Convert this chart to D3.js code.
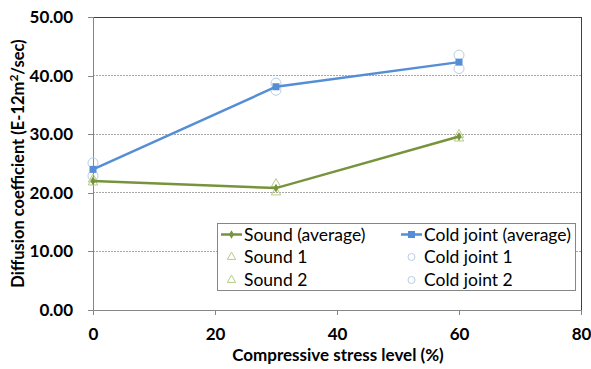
<!DOCTYPE html>
<html><head><meta charset="utf-8">
<script src="https://cdn.jsdelivr.net/npm/d3@7"></script>
<style>body{margin:0;background:#fff}svg{display:block;font-family:Lato,"Open Sans",sans-serif}</style>
</head><body><svg id="c" width="591" height="369"></svg>
<script>
const stress = [0, 30, 60];
const soundAvg = [22.0, 20.8, 29.6];
const sound1 = [22.3, 21.5, 29.9];
const sound2 = [21.8, 20.1, 29.3];
const coldAvg = [24.0, 38.1, 42.3];
const cold1 = [25.1, 38.7, 43.5];
const cold2 = [22.9, 37.5, 41.2];
const xTicks = [0, 20, 40, 60, 80];
const yTicks = [0, 10, 20, 30, 40, 50];

const svg = d3.select("#c");
const L = 93, R = 581, T = 17, B = 310;
const x = d3.scaleLinear().domain([0, 80]).range([L, R]);
const y = d3.scaleLinear().domain([0, 50]).range([B, T]);

const green = "#77933C", blue = "#558ED5", lgreen = "#B5CC82", lblue = "#B9CDE5";

// gridlines
svg.append("g").selectAll("line").data(yTicks.filter(v => v > 0 && v < 50)).join("line")
  .attr("x1", L).attr("x2", R).attr("y1", d => y(d)).attr("y2", d => y(d))
  .attr("stroke", "#a6a6a6").attr("stroke-width", 1).attr("stroke-dasharray", "2,1").attr("shape-rendering", "crispEdges");

// border top/right
svg.append("path").attr("d", `M${L},${y(50)}H${R}V${B}`).attr("fill", "none")
  .attr("stroke", "#404040").attr("stroke-width", 1).attr("shape-rendering", "crispEdges");

// axes
const yAxis = d3.axisLeft(y).tickValues(yTicks).tickFormat(d3.format(".2f")).tickSize(5);
const gy = svg.append("g").attr("transform", `translate(${L},0)`).call(yAxis);
const xAxis = d3.axisBottom(x).tickValues(xTicks).tickSize(5);
const gx = svg.append("g").attr("transform", `translate(0,${B})`).call(xAxis);
[gy, gx].forEach(g => {
  g.select(".domain").attr("stroke", "#868686").attr("shape-rendering", "crispEdges");
  g.selectAll(".tick line").attr("stroke", "#868686").attr("shape-rendering", "crispEdges");
  g.selectAll("text").attr("font-family", "Lato, sans-serif").attr("font-weight", "bold")
    .attr("font-size", 17).attr("fill", "#000");
});
gy.selectAll("text").attr("x", -20);
gx.selectAll("text").attr("y", 18);

// titles
svg.append("text").attr("x", 338).attr("y", 361).attr("text-anchor", "middle")
  .attr("font-weight", "bold").attr("font-size", 17).text("Compressive stress level (%)");
const yt = svg.append("text").attr("transform", `translate(24,${(T + B) / 2}) rotate(-90)`)
  .attr("text-anchor", "middle").attr("font-weight", "bold").attr("font-size", 16.5);
yt.append("tspan").text("Diffusion coefficient (E-12m");
yt.append("tspan").attr("dy", -6).attr("font-size", 12).text("2");
yt.append("tspan").attr("dy", 6).text("/sec)");

// markers
const tri = d3.symbol().type(d3.symbolTriangle).size(38);
function triangles(vals) {
  svg.append("g").selectAll("path").data(vals).join("path")
    .attr("d", tri).attr("transform", (d, i) => `translate(${x(stress[i])},${y(d)})`)
    .attr("fill", "none").attr("stroke", lgreen).attr("stroke-width", 1);
}
function circles(vals) {
  svg.append("g").selectAll("circle").data(vals).join("circle")
    .attr("cx", (d, i) => x(stress[i])).attr("cy", d => y(d)).attr("r", 5)
    .attr("fill", "none").attr("stroke", lblue).attr("stroke-width", 1);
}
circles(cold1); circles(cold2);
triangles(sound1); triangles(sound2);

const line = d3.line().x((d, i) => x(stress[i])).y(d => y(d));
svg.append("path").datum(coldAvg).attr("d", line).attr("fill", "none").attr("stroke", blue).attr("stroke-width", 2.5);
svg.append("g").selectAll("rect").data(coldAvg).join("rect")
  .attr("x", (d, i) => x(stress[i]) - 3.5).attr("y", d => y(d) - 3.5).attr("width", 7).attr("height", 7).attr("fill", blue);
svg.append("path").datum(soundAvg).attr("d", line).attr("fill", "none").attr("stroke", green).attr("stroke-width", 2.5);
const dia = d3.symbol().type(d3.symbolDiamond).size(22);
svg.append("g").selectAll("path").data(soundAvg).join("path")
  .attr("d", dia).attr("transform", (d, i) => `translate(${x(stress[i])},${y(d)})`).attr("fill", green);

// legend
const lg = svg.append("g");
lg.append("rect").attr("x", 217.5).attr("y", 223.5).attr("width", 358).attr("height", 67)
  .attr("fill", "#fff").attr("stroke", "#868686").attr("stroke-width", 1);
const items = [
  {label: "Sound (average)", kind: "sline", col: 0, row: 0},
  {label: "Sound 1", kind: "tri", col: 0, row: 1},
  {label: "Sound 2", kind: "tri", col: 0, row: 2},
  {label: "Cold joint (average)", kind: "cline", col: 1, row: 0},
  {label: "Cold joint 1", kind: "circ", col: 1, row: 1},
  {label: "Cold joint 2", kind: "circ", col: 1, row: 2}
];
const colX = [221, 401], rowY = [234.5, 257, 280];
items.forEach(it => {
  const sx = colX[it.col], cy = rowY[it.row];
  if (it.kind === "sline") {
    lg.append("line").attr("x1", sx).attr("x2", sx + 21).attr("y1", cy).attr("y2", cy).attr("stroke", green).attr("stroke-width", 2.5);
    lg.append("path").attr("d", dia).attr("transform", `translate(${sx + 10.5},${cy})`).attr("fill", green);
  } else if (it.kind === "cline") {
    lg.append("line").attr("x1", sx).attr("x2", sx + 21).attr("y1", cy).attr("y2", cy).attr("stroke", blue).attr("stroke-width", 2.5);
    lg.append("rect").attr("x", sx + 7).attr("y", cy - 3.5).attr("width", 7).attr("height", 7).attr("fill", blue);
  } else if (it.kind === "tri") {
    lg.append("path").attr("d", d3.symbol().type(d3.symbolTriangle).size(30)).attr("transform", `translate(${sx + 10.5},${cy})`)
      .attr("fill", "none").attr("stroke", lgreen);
  } else {
    lg.append("circle").attr("cx", sx + 10.5).attr("cy", cy).attr("r", 3.5).attr("fill", "none").attr("stroke", lblue);
  }
  lg.append("text").attr("x", sx + 23).attr("y", cy + 6).attr("font-size", 17.5).attr("fill", "#000").text(it.label);
});
</script></body></html>
